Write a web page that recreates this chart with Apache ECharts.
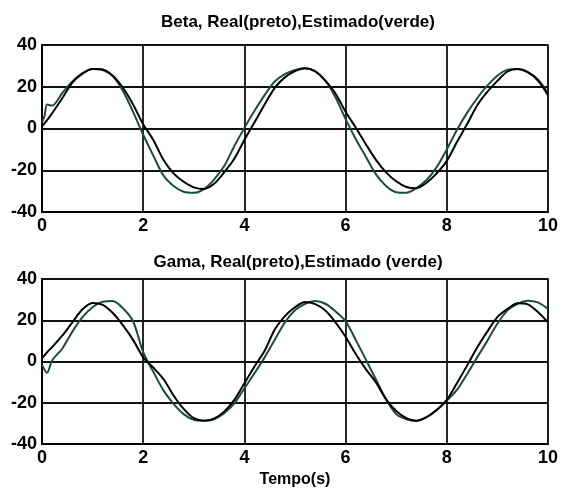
<!DOCTYPE html>
<html>
<head>
<meta charset="utf-8">
<script src="https://cdn.jsdelivr.net/npm/echarts@6/dist/echarts.min.js"></script>
<style>
html,body{margin:0;padding:0;background:#fff;}
#c{width:561px;height:491px;}
</style>
</head>
<body>
<div id="c"></div>
<script>
// time samples (s)
var t = [0, 0.05, 0.1, 0.2, 0.4, 0.6, 0.8, 1.0, 1.2, 1.4, 1.6, 1.8, 2.0, 2.2, 2.4, 2.6, 2.8, 3.0, 3.2, 3.4, 3.6, 3.8, 4.0,
         4.2, 4.4, 4.6, 4.8, 5.0, 5.2, 5.4, 5.6, 5.8, 6.0, 6.2, 6.4, 6.6, 6.8, 7.0, 7.2, 7.4, 7.6, 7.8, 8.0,
         8.2, 8.4, 8.6, 8.8, 9.0, 9.2, 9.4, 9.6, 9.8, 10.0];

// Beta: Real (preto) and Estimado (verde)
var betaReal = [1, 2.5, 4, 7.3, 14.5, 22, 26.3, 28.5, 28.3, 25.3, 19.5, 11.5, 2, -5.5, -15, -21.5, -25.5, -28.2, -29, -26.5, -21, -14.5, -5.5,
                3, 11.5, 19.5, 24.5, 27.5, 28.9, 27.3, 22.8, 16.8, 8, 0.5, -7.5, -15, -21, -25.3, -28, -28.6, -26, -21.5, -15.5,
                -6.5, 2, 11, 17.5, 22.8, 27.3, 28.5, 27, 23, 16];
var betaEst  = [3, 6, 11.5, 11, 17, 22.5, 26.5, 28.5, 28, 25, 18, 8, -3, -13, -22.5, -27.5, -30.3, -30.8, -29, -24.5, -18, -8.5, 0.3,
                8.5, 16, 22.5, 26, 28, 28.9, 27.5, 23, 15, 4.5, -5, -13.5, -22, -27.5, -30.5, -30.8, -28.5, -24.7, -18.5, -10,
                -0.7, 7.5, 14.5, 20.5, 25.3, 28.2, 28.5, 27, 23.5, 17];

// Gama: Real (preto) and Estimado (verde)
var gamaReal = [1.6, 3, 4.5, 7, 12.5, 19, 25.3, 28.4, 27.5, 23.5, 17.5, 10.5, 2, -3, -8.5, -16.5, -23, -27.5, -28.7, -27.7, -24.3, -18.6, -10.5,
                -2.4, 5.2, 15.5, 22, 26.3, 28.8, 27.8, 24.7, 19, 12, 3.6, -3.7, -10.2, -18.4, -24, -27.5, -28.7, -27, -23.5, -18.6,
                -10.5, -2, 6.8, 14.5, 21.5, 25.5, 28.2, 27.7, 24, 19];
var gamaEst  = [-1.5, -4, -5.5, 0.5, 6.2, 14.5, 21.5, 26.3, 29, 29.3, 25.8, 19.5, 4.5, -5, -14, -20.5, -25.5, -28.3, -28.7, -28, -25.1, -20.3, -13,
                -5.7, 2, 10.5, 19, 24.8, 28, 29.3, 28, 24.3, 19.5, 10.5, 1, -8.7, -18.3, -25.5, -28, -28.8, -27, -23.5, -19,
                -13.8, -6.2, 2, 10, 18.3, 24.8, 28, 29.5, 28.7, 25.5];

// axis ticks
var xTicks = {min: 0, max: 10, interval: 2};
var yTicks = {min: -40, max: 40, interval: 20};

var titles = ['Beta, Real(preto),Estimado(verde)', 'Gama, Real(preto),Estimado (verde)'];
var xName = 'Tempo(s)';

function pairs(xs, ys) { return xs.map(function (x, i) { return [x, ys[i]]; }); }

var FONT = 'Liberation Sans, Arial, sans-serif';
var lbl = {color: '#000', fontWeight: 'bold', fontSize: 18, fontFamily: FONT};
var split = {show: true, lineStyle: {color: '#111', width: 1.8}};

function xAxisCfg(idx, withName) {
  var a = {
    type: 'value', gridIndex: idx, min: xTicks.min, max: xTicks.max, interval: xTicks.interval,
    axisLine: {show: true, onZero: false, lineStyle: {color: '#000', width: 2}},
    axisTick: {show: false},
    axisLabel: Object.assign({margin: 5}, lbl),
    splitLine: split
  };
  if (withName) {
    a.name = xName; a.nameLocation = 'middle'; a.nameGap = 28;
    a.nameTextStyle = {color: '#000', fontWeight: 'bold', fontSize: 16, fontFamily: FONT};
  }
  return a;
}
function yAxisCfg(idx) {
  return {
    type: 'value', gridIndex: idx, min: yTicks.min, max: yTicks.max, interval: yTicks.interval,
    axisLine: {show: true, lineStyle: {color: '#000', width: 2}},
    axisTick: {show: false},
    axisLabel: Object.assign({margin: 5}, lbl),
    splitLine: split
  };
}

var realColor = '#000000';
var estColor = '#1a4f3c';

var chart = echarts.init(document.getElementById('c'), null, {renderer: 'canvas'});
chart.setOption({
  backgroundColor: '#fff',
  animation: false,
  title: [
    {text: titles[0], left: 293, top: 9, textAlign: 'center',
     textStyle: {color: '#000', fontWeight: 'bold', fontSize: 17, fontFamily: FONT}},
    {text: titles[1], left: 293, top: 249, textAlign: 'center',
     textStyle: {color: '#000', fontWeight: 'bold', fontSize: 17, fontFamily: FONT}}
  ],
  grid: [
    {left: 42, right: 12, top: 45, height: 167, show: true, borderColor: '#777', borderWidth: 2},
    {left: 42, right: 12, top: 279, height: 165, show: true, borderColor: '#777', borderWidth: 2}
  ],
  xAxis: [xAxisCfg(0, false), xAxisCfg(1, true)],
  yAxis: [yAxisCfg(0), yAxisCfg(1)],
  series: [
    {type: 'line', xAxisIndex: 0, yAxisIndex: 0, data: pairs(t, betaEst), showSymbol: false, smooth: 0.3,
     lineStyle: {color: estColor, width: 2}},
    {type: 'line', xAxisIndex: 0, yAxisIndex: 0, data: pairs(t, betaReal), showSymbol: false, smooth: 0.3,
     lineStyle: {color: realColor, width: 2}},
    {type: 'line', xAxisIndex: 1, yAxisIndex: 1, data: pairs(t, gamaEst), showSymbol: false, smooth: 0.3,
     lineStyle: {color: estColor, width: 2}},
    {type: 'line', xAxisIndex: 1, yAxisIndex: 1, data: pairs(t, gamaReal), showSymbol: false, smooth: 0.3,
     lineStyle: {color: realColor, width: 2}}
  ]
});
</script>
</body>
</html>
